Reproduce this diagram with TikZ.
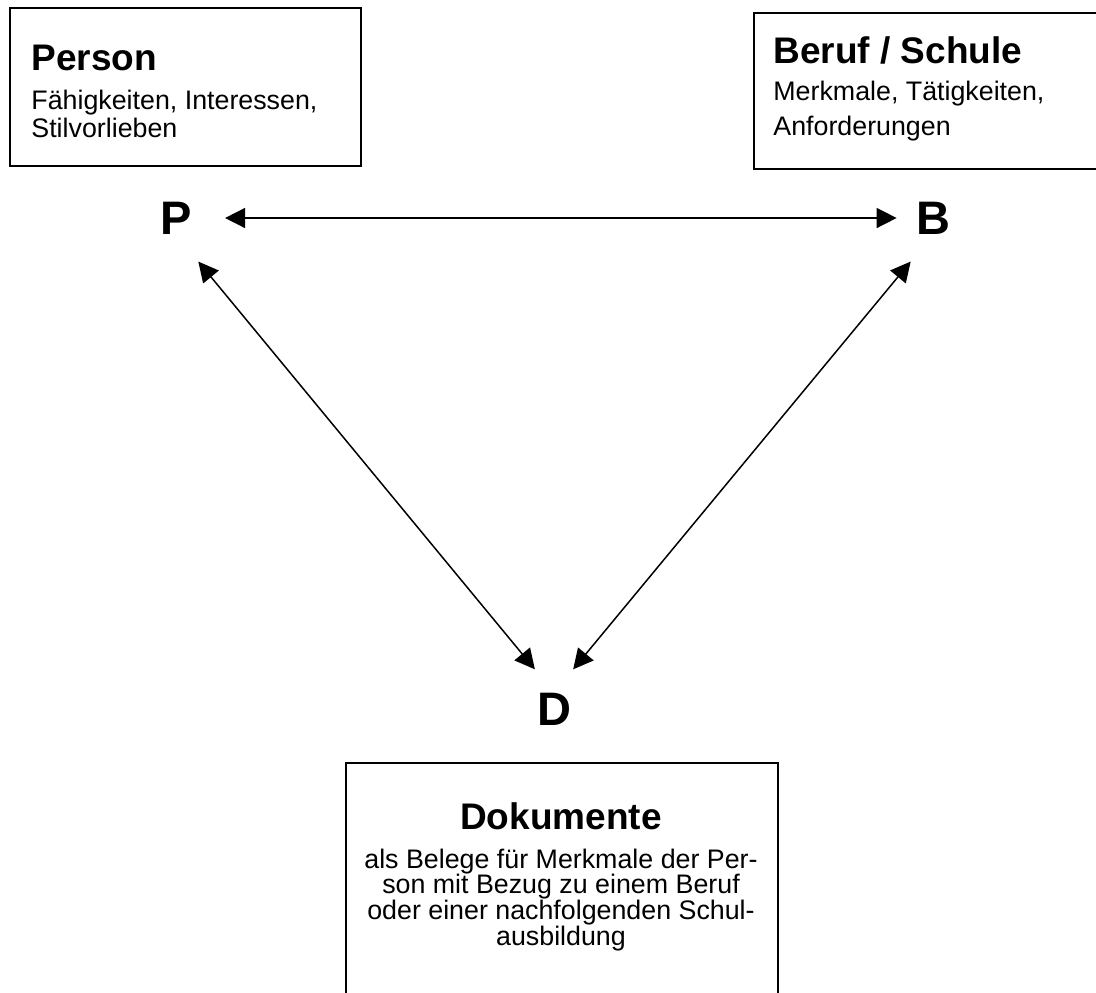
\documentclass[tikz,border=0pt]{standalone}
\usepackage{fontspec}
\setmainfont{Liberation Sans}
\usetikzlibrary{arrows.meta}

\tikzset{
  kasten/.style={draw, line width=1pt, inner sep=0pt, anchor=north west},
  titel/.style={font=\fontsize{18.5}{22}\selectfont\bfseries, inner sep=0pt},
  fliesstext/.style={font=\fontsize{13.4}{#1}\selectfont, inner sep=0pt},
  buchstabe/.style={font=\fontsize{23.5}{28}\selectfont\bfseries, inner sep=0pt},
  pfeil/.style={{Triangle[length=10pt,width=10pt]}-{Triangle[length=10pt,width=10pt]}, line width=0.75pt}
}

\begin{document}
\begin{tikzpicture}[x=0.5pt,y=-0.5pt]
\useasboundingbox (0,0) rectangle (1096,992);
% Kaesten
\node[kasten, minimum width=175.5pt, minimum height=79pt] (person) at (9,7) {};
\node[kasten, minimum width=180pt, minimum height=78pt] (beruf) at (753,12) {};
\node[kasten, minimum width=216pt, minimum height=130pt] (doku) at (345,762) {};
% Texte (base = Grundlinie der letzten Zeile)
\node[titel, anchor=base west] (person_t) at (31,70) {Person};
\node[fliesstext=14pt, align=left, anchor=base west] (person_b) at (31,137) {F\"ahigkeiten, Interessen,\\Stilvorlieben};
\node[titel, anchor=base west] (beruf_t) at (773,63) {Beruf / Schule};
\node[fliesstext=17.5pt, align=left, anchor=base west] (beruf_b) at (773,135) {Merkmale, T\"atigkeiten,\\Anforderungen};
\node[titel, anchor=base] (doku_t) at (561,829) {Dokumente};
\node[fliesstext=12.8pt, align=center, anchor=base] (doku_b) at (561,945) {als Belege f\"ur Merkmale der Per-\\son mit Bezug zu einem Beruf\\oder einer nachfolgenden Schul-\\ausbildung};
% Ecken
\node[buchstabe] (P) at (176,218) {P};
\node[buchstabe] (B) at (933,218) {B};
\node[buchstabe] (D) at (554,709) {D};
\draw[pfeil, shorten <=16.5pt, shorten >=9.5pt] (P) -- (B);
\draw[pfeil, shorten <=17.5pt, shorten >=15pt] (P.south) -- (D.north);
\draw[pfeil, shorten <=17.5pt, shorten >=15pt] (B.south) -- (D.north);
\end{tikzpicture}
\end{document}
